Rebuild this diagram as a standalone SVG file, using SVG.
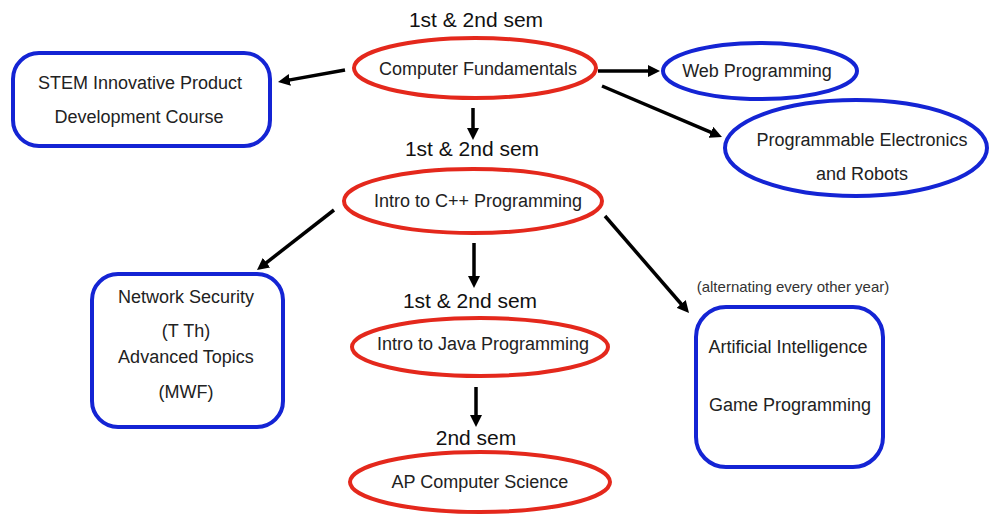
<svg xmlns="http://www.w3.org/2000/svg" width="989" height="518" viewBox="0 0 989 518">
<style>
  .red { fill: none; stroke: #e4281c; stroke-width: 4; }
  .blue { fill: none; stroke: #1424d4; stroke-width: 4; }
  .lbl { font-family: "Liberation Sans", Arial, sans-serif; font-size: 18px; fill: #222; text-anchor: middle; }
  .sem { font-family: "Liberation Sans", Arial, sans-serif; font-size: 21px; fill: #111; text-anchor: middle; }
  .note { font-family: "Liberation Sans", Arial, sans-serif; font-size: 15px; fill: #333; text-anchor: middle; }
  .arr { stroke: #000; stroke-width: 3.5; fill: none; marker-end: url(#ah); }
</style>
<defs>
  <marker id="ah" markerUnits="userSpaceOnUse" markerWidth="12" markerHeight="12" refX="4" refY="6" orient="auto">
    <path d="M0,0 L12,6 L0,12 z" fill="#000"/>
  </marker>
</defs>
<rect width="989" height="518" fill="#fff"/>

<g id="connectors">
  <line class="arr" x1="345" y1="70" x2="285.9" y2="80.6"/>
  <line class="arr" x1="473" y1="108" x2="473" y2="132"/>
  <line class="arr" x1="598" y1="71" x2="652" y2="71"/>
  <line class="arr" x1="602" y1="86" x2="714.6" y2="133.9"/>
  <line class="arr" x1="334" y1="210" x2="263.3" y2="265.1"/>
  <line class="arr" x1="474" y1="243" x2="474" y2="280"/>
  <line class="arr" x1="605" y1="216" x2="683.8" y2="307"/>
  <line class="arr" x1="476" y1="387" x2="476" y2="419"/>
</g>

<g id="sem-labels">
  <text class="sem" x="476" y="27">1st &amp; 2nd sem</text>
  <text class="sem" x="472" y="156">1st &amp; 2nd sem</text>
  <text class="sem" x="470" y="308">1st &amp; 2nd sem</text>
  <text class="sem" x="476" y="445">2nd sem</text>
</g>

<g id="computer-fundamentals">
  <ellipse class="red" cx="475" cy="68" rx="121" ry="30"/>
  <text class="lbl" x="478" y="75">Computer Fundamentals</text>
</g>

<g id="stem">
  <rect class="blue" x="13" y="53" width="257" height="93" rx="26"/>
  <text class="lbl" x="140" y="89">STEM Innovative Product</text>
  <text class="lbl" x="139" y="123">Development Course</text>
</g>

<g id="web-programming">
  <ellipse class="blue" cx="760" cy="71" rx="97" ry="28"/>
  <text class="lbl" x="757" y="77">Web Programming</text>
</g>

<g id="programmable-electronics">
  <ellipse class="blue" cx="856" cy="148" rx="131" ry="48"/>
  <text class="lbl" x="862" y="146">Programmable Electronics</text>
  <text class="lbl" x="862" y="180">and Robots</text>
</g>

<g id="intro-cpp">
  <ellipse class="red" cx="473" cy="201" rx="129" ry="32"/>
  <text class="lbl" x="478" y="207">Intro to C++ Programming</text>
</g>

<g id="network-security">
  <rect class="blue" x="92" y="274" width="191" height="153" rx="26"/>
  <text class="lbl" x="186" y="303">Network Security</text>
  <text class="lbl" x="186" y="337">(T Th)</text>
  <text class="lbl" x="186" y="363">Advanced Topics</text>
  <text class="lbl" x="186" y="398">(MWF)</text>
</g>

<g id="intro-java">
  <ellipse class="red" cx="480" cy="347" rx="128" ry="29"/>
  <text class="lbl" x="483" y="350">Intro to Java Programming</text>
</g>

<g id="ap-cs">
  <ellipse class="red" cx="480" cy="482" rx="130" ry="30"/>
  <text class="lbl" x="480" y="488">AP Computer Science</text>
</g>

<g id="ai-game">
  <text class="note" x="793" y="292">(alternating every other year)</text>
  <rect class="blue" x="696" y="307" width="187" height="160" rx="30"/>
  <text class="lbl" x="788" y="353">Artificial Intelligence</text>
  <text class="lbl" x="790" y="411">Game Programming</text>
</g>
</svg>
